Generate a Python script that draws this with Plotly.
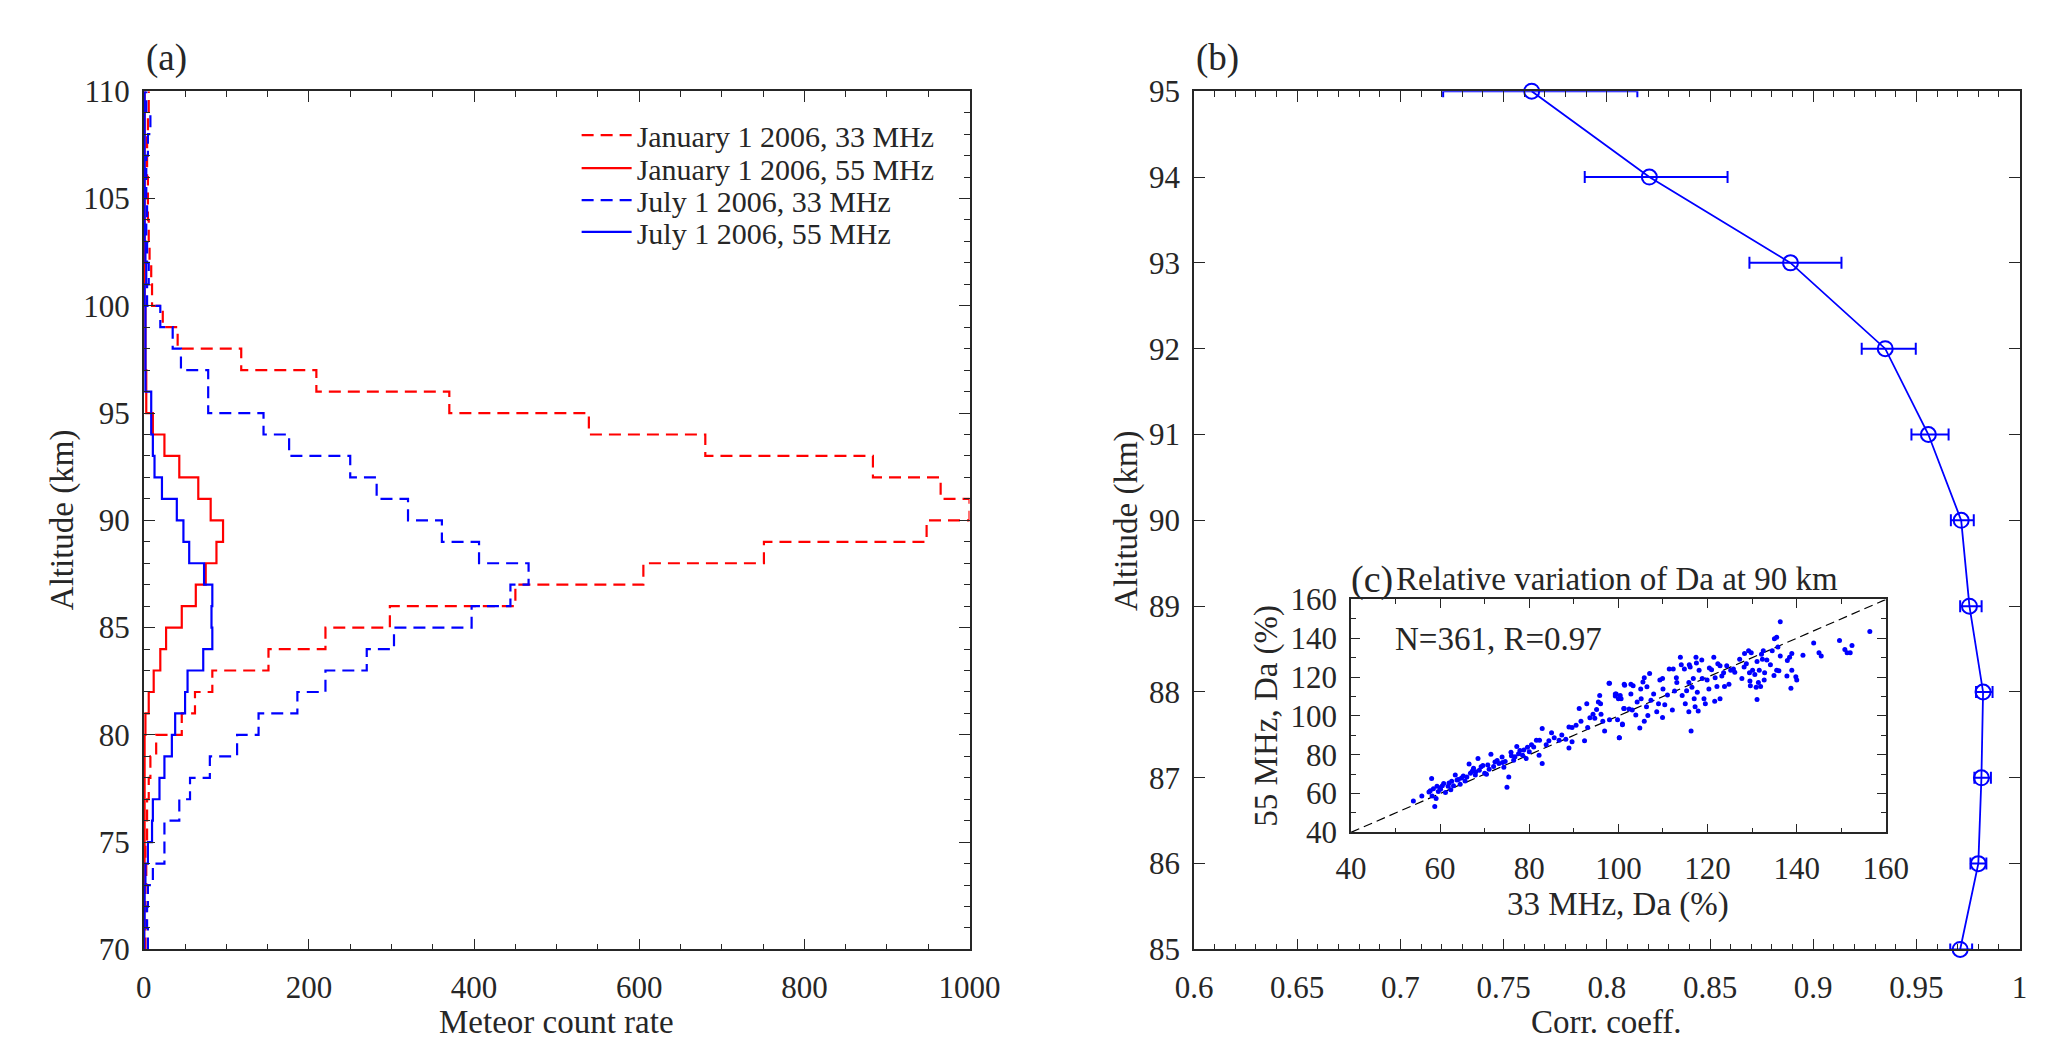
import plotly.graph_objects as go

# panel (a): meteor count rate per 1-km altitude bin (70-71 km ... 109-110 km)
alt_edges = list(range(70, 111))
jan_33 = [2, 3, 2, 3, 2, 4, 4, 6, 8, 15,
          46, 62, 83, 151, 220, 298, 450, 605, 751, 948,
          1000, 965, 883, 680, 539, 370, 209, 118, 41, 23,
          10, 9, 7, 6, 5, 5, 4, 4, 5, 6]
jan_55 = [0.5, 0.5, 0.5, 1, 1, 1, 1, 1, 1, 1,
          2, 6, 12, 20, 27, 46, 63, 75, 88, 96,
          81, 66, 43, 25, 11, 3, 3, 2, 2, 2,
          1, 1, 1, 1, 1, 1, 1, 1, 1, 1]
jul_33 = [5, 4, 5, 11, 25, 25, 43, 56, 80, 113,
          139, 186, 220, 270, 303, 397, 444, 466, 406, 361,
          320, 282, 250, 176, 145, 78, 78, 45, 35, 20,
          4, 6, 4, 3, 4, 3, 3, 5, 8, 3]
jul_55 = [0.5, 1, 1, 2, 5, 10, 11, 19, 25, 34,
          38, 50, 53, 72, 83, 82, 83, 73, 55, 48,
          40, 22, 13, 11, 9, 9, 2, 2, 2, 2,
          1, 3, 2, 1, 1, 1, 1, 1, 1, 1]

# panel (b): correlation coefficient with confidence limits
alt_b = [85, 86, 87, 88, 89, 90, 91, 92, 93, 94, 95]
corr = [0.9712, 0.9800, 0.9815, 0.9823, 0.9757, 0.9717, 0.9558, 0.9349, 0.8890, 0.8206, 0.7636]
corr_low = [0.9664, 0.9762, 0.9781, 0.9789, 0.9712, 0.9667, 0.9476, 0.9235, 0.8691, 0.7893, 0.7207]
corr_high = [0.9770, 0.9839, 0.9861, 0.9869, 0.9816, 0.9778, 0.9656, 0.9497, 0.9137, 0.8585, 0.8148]
corr_ticks = [0.6, 0.65, 0.7, 0.75, 0.8, 0.85, 0.9, 0.95, 1.0]
corr_ticktext = ["0.6", "0.65", "0.7", "0.75", "0.8", "0.85", "0.9", "0.95", "1"]

# inset (c): relative variation of Da at 90 km, 33 MHz vs 55 MHz
da_33 = [54.0, 55.9, 58.1, 58.8, 58.2, 59.1, 58.5, 59.3, 57.5, 60.1, 60.8, 61.8, 63.4, 62.6,
         64.1, 64.8, 64.5, 66.5, 66.8, 67.5, 68.5, 68.0, 69.2, 70.0, 70.7, 71.4, 72.3, 73.2,
         73.9, 74.3, 75.0, 75.4, 75.9, 76.5, 77.2, 77.9, 78.5, 79.3, 79.6, 80.5, 81.6, 82.3,
         82.2, 82.9, 82.9, 83.8, 84.4, 85.0, 85.6, 86.7, 87.3, 88.2, 88.9, 88.9, 89.6, 90.5,
         89.6, 91.2, 91.6, 92.4, 92.9, 93.1, 93.6, 94.3, 95.1, 95.8, 96.0, 96.1, 96.5, 96.9,
         97.9, 99.5, 100.0, 100.2, 101.3, 101.3, 100.4, 100.9, 95.5, 94.7,
         59.6, 60.5, 61.2, 62.0, 63.0, 63.8, 65.2, 66.0, 67.2, 68.8, 69.6, 71.0, 72.8, 74.6,
         76.0, 77.6, 78.8, 80.0, 81.0, 57.8, 60.0, 62.4, 65.6, 67.9, 70.4, 72.0, 74.0, 76.8,
         98.0, 98.0, 99.3, 99.3, 100.2, 99.8, 100.9, 100.6, 101.2, 101.4, 102.8, 103.3, 102.8,
         102.4, 103.1, 103.9, 104.2, 104.8, 105.0, 105.1, 105.5, 105.8, 105.8, 106.3, 106.6,
         106.4, 107.0, 107.3, 107.9, 108.6, 109.0, 109.3, 109.9, 110.0, 109.9, 110.4, 111.0,
         111.4, 112.1, 112.3, 112.6, 113.0, 113.1, 113.9, 114.1, 114.3, 114.8, 115.0, 115.3,
         115.8, 115.9, 116.1, 115.8, 116.3, 116.5, 116.8, 117.0, 117.2, 117.4, 117.5, 117.7,
         117.9, 118.1, 118.7, 118.8, 119.2, 119.5, 119.9, 120.3, 120.4, 120.9, 121.4, 121.6,
         121.7, 122.1, 122.3, 122.8, 122.8, 123.2, 123.6, 123.8, 124.3, 124.8, 125.2, 125.8,
         126.1, 127.2, 127.7, 128.2, 128.3, 128.7, 129.2, 129.4, 129.5, 129.6, 129.8, 130.1,
         130.6, 130.9, 131.1, 131.1, 131.4, 131.6, 131.9, 132.1, 132.3, 132.5, 132.7, 132.8,
         133.3, 134.1, 134.5, 134.9, 135.0, 135.5, 135.5, 135.8, 136.0, 136.3, 136.3, 137.8,
         137.9, 138.4, 138.7, 138.9, 138.9, 139.8, 140.0, 141.4, 143.8, 145.0, 145.5, 149.6,
         150.8, 151.3, 152.0, 152.4, 156.4]
da_55 = [56.2, 58.8, 67.8, 53.3, 58.8, 57.5, 62.5, 63.8, 60.8, 62.2, 65.2, 63.8, 69.5, 66.3,
         67.2, 68.0, 64.8, 75.2, 70.5, 73.0, 78.0, 71.2, 73.8, 70.5, 74.7, 80.2, 76.3, 75.5,
         78.8, 73.5, 63.3, 68.5, 81.3, 77.2, 84.2, 82.2, 79.7, 78.0, 83.8, 85.2, 87.5, 87.5,
         79.7, 93.5, 75.5, 85.2, 87.2, 91.3, 88.8, 87.5, 90.2, 88.0, 83.5, 94.3, 94.0, 95.2,
         86.7, 103.8, 97.2, 87.2, 106.3, 94.0, 99.0, 100.8, 103.3, 110.5, 106.3, 100.8, 97.2,
         92.2, 116.8, 111.3, 108.8, 88.8, 116.3, 103.8, 110.5, 95.5, 107.2, 98.8,
         61.0, 64.0, 60.5, 65.5, 64.0, 67.0, 69.0, 68.5, 71.5, 72.0, 74.5, 72.5, 77.0, 76.5,
         79.5, 80.5, 82.5, 81.5, 84.0, 61.5, 63.0, 62.0, 66.5, 69.5, 70.0, 74.0, 76.0, 79.0,
         116.8, 98.0, 111.3, 110.2, 88.8, 98.0, 95.8, 108.8, 103.8, 115.8, 116.3, 115.5, 111.3,
         103.5, 103.0, 100.5, 107.2, 93.8, 113.8, 108.8, 117.5, 119.7, 97.2, 104.7, 100.2,
         115.0, 121.8, 108.0, 111.3, 102.2, 106.3, 118.5, 119.2, 113.8, 99.2, 105.8, 110.8,
         124.2, 103.0, 124.2, 112.8, 119.7, 117.2, 130.2, 126.3, 110.5, 124.2, 106.3, 113.0,
         117.2, 126.3, 125.2, 102.2, 92.2, 114.8, 119.2, 108.8, 104.7, 130.2, 127.2, 112.2,
         102.5, 123.5, 128.8, 119.2, 108.8, 106.3, 118.5, 113.8, 124.7, 123.8, 130.2, 107.5,
         119.7, 115.2, 126.8, 125.8, 108.8, 120.5, 122.2, 115.2, 125.8, 116.3, 123.5, 124.2,
         122.5, 129.2, 119.2, 125.2, 132.2, 126.8, 133.5, 122.2, 118.0, 115.5, 132.5, 123.5,
         121.3, 114.7, 108.5, 128.0, 117.2, 123.5, 115.2, 131.8, 129.2, 133.5, 118.5, 122.2,
         128.8, 126.3, 133.5, 120.8, 139.7, 140.5, 123.5, 135.5, 123.2, 148.5, 130.8, 120.5,
         128.5, 130.2, 114.2, 132.2, 123.5, 120.2, 118.5, 131.3, 137.5, 132.5, 130.8, 138.8,
         134.2, 132.5, 132.5, 136.3, 143.5]
one_to_one = [40, 160]

RED = "#ff0000"
BLUE = "#0000ff"
AX = "#262626"
FONT = "Liberation Serif"

fig = go.Figure()


def stairs(vals):
    # value of each bin held over [k, k+1]; last bin repeated to close at the top edge
    return vals + [vals[-1]]


# one legend per row so the rows sit as tightly as the matlab legend
series = [
    ("January 1 2006, 33 MHz", jan_33, RED, "12px,7px", "legend", 0.8925),
    ("January 1 2006, 55 MHz", jan_55, RED, "solid", "legend2", 0.8604),
    ("July 1 2006, 33 MHz", jul_33, BLUE, "12px,7px", "legend3", 0.8292),
    ("July 1 2006, 55 MHz", jul_55, BLUE, "solid", "legend4", 0.7981),
]
for name, vals, col, dash, leg, ly in series:
    fig.add_trace(go.Scatter(x=stairs(vals), y=alt_edges, mode="lines", name=name,
                             line=dict(color=col, width=2.2, dash=dash, shape="vh"),
                             legend=leg, xaxis="x", yaxis="y"))
    fig.update_layout({leg: dict(x=0.2725, y=ly, xanchor="left", yanchor="middle",
                                 bgcolor="rgba(255,255,255,0)", borderwidth=0,
                                 itemwidth=50,
                                 font=dict(family=FONT, size=30, color=AX))})

fig.add_trace(go.Scatter(
    x=corr, y=alt_b, mode="lines+markers", showlegend=False, cliponaxis=False,
    line=dict(color=BLUE, width=1.8),
    marker=dict(symbol="circle-open", size=15, color=BLUE, line=dict(width=2)),
    error_x=dict(type="data", symmetric=False,
                 array=[h - c for h, c in zip(corr_high, corr)],
                 arrayminus=[c - l for c, l in zip(corr, corr_low)],
                 color=BLUE, thickness=2, width=6),
    xaxis="x2", yaxis="y2"))

fig.add_trace(go.Scatter(x=one_to_one, y=one_to_one, mode="lines", showlegend=False,
                         line=dict(color="black", width=1.2, dash="9px,5px"),
                         xaxis="x3", yaxis="y3"))
fig.add_trace(go.Scatter(x=da_33, y=da_55, mode="markers", showlegend=False,
                         marker=dict(color=BLUE, size=5),
                         xaxis="x3", yaxis="y3"))


def ax(**kw):
    base = dict(showline=True, linecolor=AX, linewidth=1.6, mirror="ticks",
                ticks="inside", ticklen=11, tickwidth=1.4, tickcolor=AX,
                showgrid=False, zeroline=False,
                tickfont=dict(family=FONT, size=31, color=AX))
    base.update(kw)
    return base


def minor(step, length=6, start=None):
    m = dict(dtick=step, ticklen=length, ticks="inside", tickcolor=AX, tickwidth=1.2,
             showgrid=False)
    if start is not None:
        m["tick0"] = start
    return m


fig.update_layout(
    width=2067, height=1060, autosize=False,
    margin=dict(l=0, r=0, t=0, b=0),
    paper_bgcolor="white", plot_bgcolor="white",
    font=dict(family=FONT, color=AX),
    xaxis=ax(domain=[0.0579, 0.4673], range=[0, 1000], tick0=0, dtick=200,
             minor=minor(50), anchor="y", ticklabelstandoff=10),
    yaxis=ax(domain=[0.0981, 0.9354], range=[70, 110], tick0=70, dtick=5,
             minor=minor(1), anchor="x", ticklabelstandoff=6),
    xaxis2=ax(domain=[0.5786, 0.9879], range=[0.6, 1.0], tickvals=corr_ticks,
              ticktext=corr_ticktext, minor=minor(0.01, start=0.6),
              anchor="y2", ticklabelstandoff=10),
    yaxis2=ax(domain=[0.0981, 0.9354], range=[85, 95], tick0=85, dtick=1,
              anchor="x2", ticklabelstandoff=6),
    xaxis3=ax(domain=[0.6564, 0.9216], range=[40, 160], tick0=40, dtick=20, ticklen=9,
              minor=minor(10, 5), anchor="y3", ticklabelstandoff=8),
    yaxis3=ax(domain=[0.2123, 0.4396], range=[40, 160], tick0=40, dtick=20, ticklen=9,
              minor=minor(10, 5), anchor="x3", ticklabelstandoff=6),
)

notes = [
    dict(text="(a)", x=0.0579, y=0.968, xanchor="left", size=37),
    dict(text="(b)", x=0.5786, y=0.968, xanchor="left", size=37),
    dict(text="Meteor count rate", x=0.2626, y=0.027, xanchor="center", size=33),
    dict(text="Corr. coeff.", x=0.7833, y=0.027, xanchor="center", size=33),
    dict(text="Altitude (km)", x=0.0174, y=0.517, xanchor="center", size=33, angle=-90),
    dict(text="Altitude (km)", x=0.5448, y=0.517, xanchor="center", size=33, angle=-90),
    dict(text="33 MHz, Da (%)", x=0.789, y=0.1415, xanchor="center", size=33),
    dict(text="55 MHz, Da (%)", x=0.6144, y=0.3264, xanchor="center", size=33, angle=-90),
    dict(text="(c)", x=0.6556, y=0.4594, xanchor="left", size=38),
    dict(text="Relative variation of Da at 90 km", x=0.6778, y=0.4594, xanchor="left", size=33),
    dict(text="N=361, R=0.97", x=0.6773, y=0.401, xanchor="left", size=33),
]
for n in notes:
    fig.add_annotation(text=n["text"], x=n["x"], y=n["y"], xref="paper", yref="paper",
                       xanchor=n["xanchor"], yanchor="middle", showarrow=False,
                       textangle=n.get("angle", 0),
                       font=dict(family=FONT, size=n["size"], color=AX))

fig.write_html("out.html")
